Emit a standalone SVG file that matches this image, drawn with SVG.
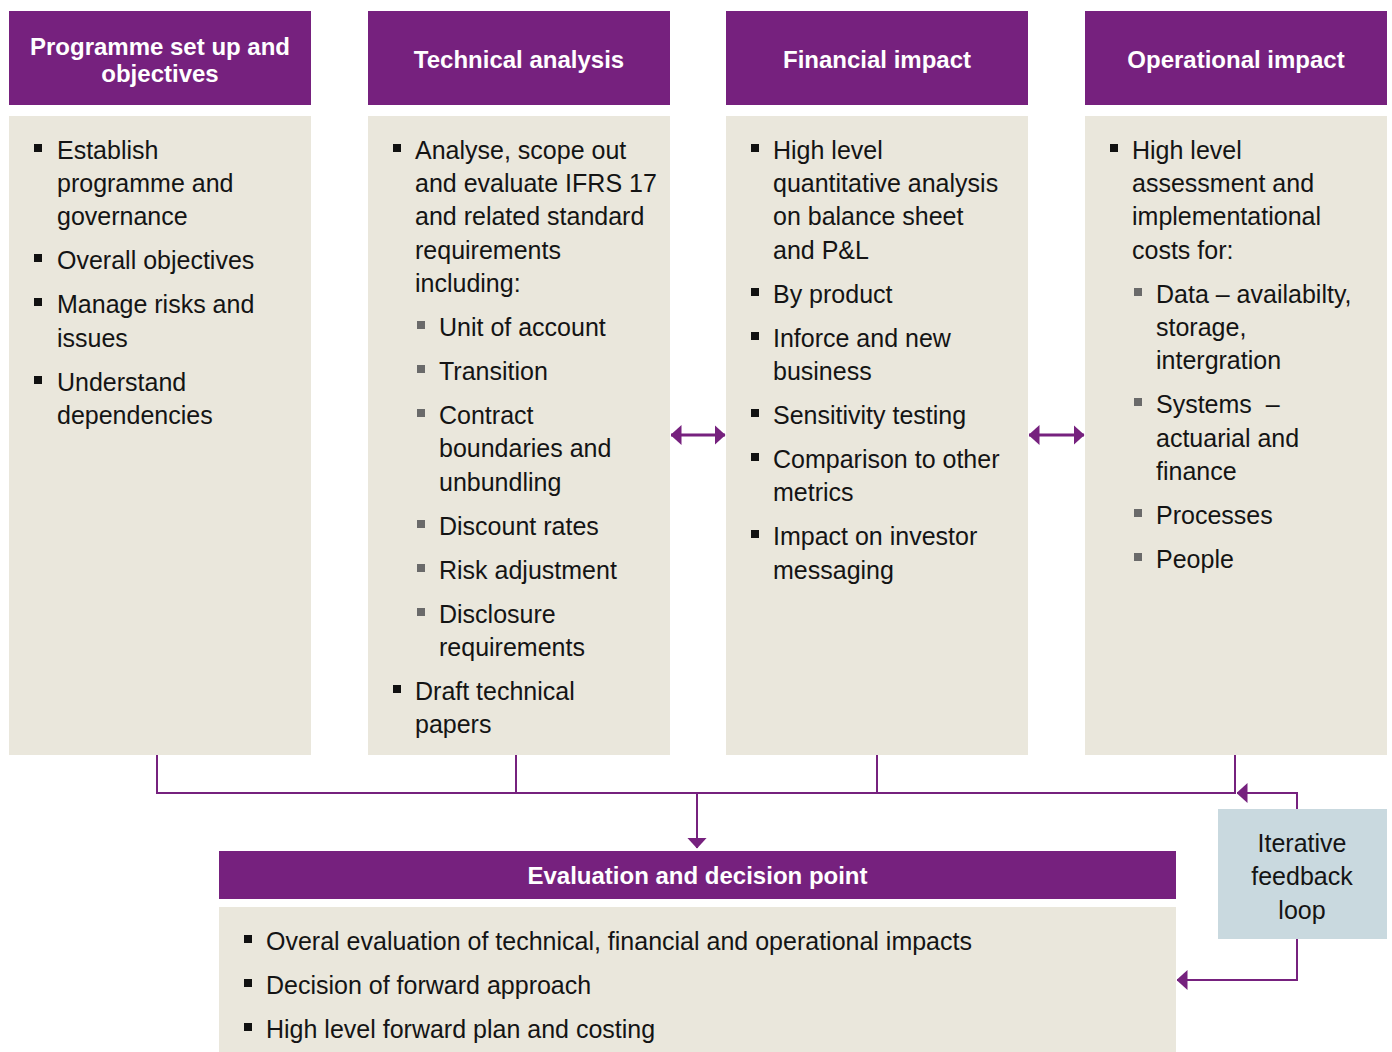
<svg xmlns="http://www.w3.org/2000/svg" width="1392" height="1052" viewBox="0 0 1392 1052">
  <style>
    .head { fill: #76217e; }
    .body { fill: #eae7dc; }
    .fb { fill: #c9d9df; }
    .ht { font-family: "Liberation Sans", Arial, sans-serif; font-weight: bold; font-size: 24px; fill: #ffffff; text-anchor: middle; }
    .t { font-family: "Liberation Sans", Arial, sans-serif; font-size: 25px; fill: #141414; }
    .fbt { font-family: "Liberation Sans", Arial, sans-serif; font-size: 25px; fill: #141414; text-anchor: middle; }
    .b1 { fill: #111111; }
    .b2 { fill: #6a6a6a; }
    .conn { fill: none; stroke: #76217e; stroke-width: 2; }
    .dbl { fill: none; stroke: #76217e; stroke-width: 3; }
  </style>
  <defs>
    <marker id="tri" viewBox="0 0 11 20" refX="10.5" refY="10" markerWidth="11" markerHeight="20" markerUnits="userSpaceOnUse" orient="auto-start-reverse">
      <path d="M0,0 L11,10 L0,20 z" fill="#76217e"/>
    </marker>
    <rect id="sq" width="8" height="8"/>
  </defs>

  <!-- Column 1 -->
  <g id="programme">
    <rect class="head" x="9" y="11" width="302" height="94"/>
    <text class="ht" x="160" y="55">Programme set up and</text>
    <text class="ht" x="160" y="82">objectives</text>
    <rect class="body" x="9" y="116" width="302" height="639"/>
    <g class="b1">
      <use href="#sq" x="34" y="144"/>
      <use href="#sq" x="34" y="254"/>
      <use href="#sq" x="34" y="298"/>
      <use href="#sq" x="34" y="376"/>
    </g>
    <g class="t">
      <text x="57" y="159">Establish</text>
      <text x="57" y="192">programme and</text>
      <text x="57" y="225">governance</text>
      <text x="57" y="269">Overall objectives</text>
      <text x="57" y="313">Manage risks and</text>
      <text x="57" y="347">issues</text>
      <text x="57" y="391">Understand</text>
      <text x="57" y="424">dependencies</text>
    </g>
  </g>

  <!-- Column 2 -->
  <g id="technical">
    <rect class="head" x="368" y="11" width="302" height="94"/>
    <text class="ht" x="519" y="68">Technical analysis</text>
    <rect class="body" x="368" y="116" width="302" height="639"/>
    <g class="b1">
      <use href="#sq" x="393" y="144"/>
      <use href="#sq" x="393" y="685"/>
    </g>
    <g class="b2">
      <use href="#sq" x="417" y="321"/>
      <use href="#sq" x="417" y="365"/>
      <use href="#sq" x="417" y="409"/>
      <use href="#sq" x="417" y="520"/>
      <use href="#sq" x="417" y="564"/>
      <use href="#sq" x="417" y="608"/>
    </g>
    <g class="t">
      <text x="415" y="159">Analyse, scope out</text>
      <text x="415" y="192">and evaluate IFRS 17</text>
      <text x="415" y="225">and related standard</text>
      <text x="415" y="259">requirements</text>
      <text x="415" y="292">including:</text>
      <text x="439" y="336">Unit of account</text>
      <text x="439" y="380">Transition</text>
      <text x="439" y="424">Contract</text>
      <text x="439" y="457">boundaries and</text>
      <text x="439" y="491">unbundling</text>
      <text x="439" y="535">Discount rates</text>
      <text x="439" y="579">Risk adjustment</text>
      <text x="439" y="623">Disclosure</text>
      <text x="439" y="656">requirements</text>
      <text x="415" y="700">Draft technical</text>
      <text x="415" y="733">papers</text>
    </g>
  </g>

  <!-- Column 3 -->
  <g id="financial">
    <rect class="head" x="726" y="11" width="302" height="94"/>
    <text class="ht" x="877" y="68">Financial impact</text>
    <rect class="body" x="726" y="116" width="302" height="639"/>
    <g class="b1">
      <use href="#sq" x="751" y="144"/>
      <use href="#sq" x="751" y="288"/>
      <use href="#sq" x="751" y="332"/>
      <use href="#sq" x="751" y="409"/>
      <use href="#sq" x="751" y="453"/>
      <use href="#sq" x="751" y="530"/>
    </g>
    <g class="t">
      <text x="773" y="159">High level</text>
      <text x="773" y="192">quantitative analysis</text>
      <text x="773" y="225">on balance sheet</text>
      <text x="773" y="259">and P&amp;L</text>
      <text x="773" y="303">By product</text>
      <text x="773" y="347">Inforce and new</text>
      <text x="773" y="380">business</text>
      <text x="773" y="424">Sensitivity testing</text>
      <text x="773" y="468">Comparison to other</text>
      <text x="773" y="501">metrics</text>
      <text x="773" y="545">Impact on investor</text>
      <text x="773" y="579">messaging</text>
    </g>
  </g>

  <!-- Column 4 -->
  <g id="operational">
    <rect class="head" x="1085" y="11" width="302" height="94"/>
    <text class="ht" x="1236" y="68">Operational impact</text>
    <rect class="body" x="1085" y="116" width="302" height="639"/>
    <g class="b1">
      <use href="#sq" x="1110" y="144"/>
    </g>
    <g class="b2">
      <use href="#sq" x="1134" y="288"/>
      <use href="#sq" x="1134" y="398"/>
      <use href="#sq" x="1134" y="509"/>
      <use href="#sq" x="1134" y="553"/>
    </g>
    <g class="t">
      <text x="1132" y="159">High level</text>
      <text x="1132" y="192">assessment and</text>
      <text x="1132" y="225">implementational</text>
      <text x="1132" y="259">costs for:</text>
      <text x="1156" y="303">Data – availabilty,</text>
      <text x="1156" y="336">storage,</text>
      <text x="1156" y="369">intergration</text>
      <text x="1156" y="413">Systems &#160;–</text>
      <text x="1156" y="447">actuarial and</text>
      <text x="1156" y="480">finance</text>
      <text x="1156" y="524">Processes</text>
      <text x="1156" y="568">People</text>
    </g>
  </g>

  <!-- Evaluation block -->
  <g id="evaluation">
    <rect class="head" x="219" y="851" width="957" height="48"/>
    <text class="ht" x="697.5" y="884">Evaluation and decision point</text>
    <rect class="body" x="219" y="907" width="957" height="145"/>
    <g class="b1">
      <use href="#sq" x="244" y="935"/>
      <use href="#sq" x="244" y="979"/>
      <use href="#sq" x="244" y="1023"/>
    </g>
    <g class="t">
      <text x="266" y="950">Overal evaluation of technical, financial and operational impacts</text>
      <text x="266" y="994">Decision of forward approach</text>
      <text x="266" y="1038">High level forward plan and costing</text>
    </g>
  </g>

  <!-- Feedback box -->
  <g id="feedback">
    <rect class="fb" x="1218" y="809" width="169" height="130"/>
    <text class="fbt" x="1302" y="852">Iterative</text>
    <text class="fbt" x="1302" y="885">feedback</text>
    <text class="fbt" x="1302" y="919">loop</text>
  </g>

  <!-- Connectors -->
  <g id="connectors">
    <path class="dbl" d="M671,435 H725" marker-start="url(#tri)" marker-end="url(#tri)"/>
    <path class="dbl" d="M1029,435 H1084" marker-start="url(#tri)" marker-end="url(#tri)"/>
    <path class="conn" d="M157,755 V793 H1235 V755"/>
    <path class="conn" d="M516,755 V793"/>
    <path class="conn" d="M877,755 V793"/>
    <path class="conn" d="M697,793 V848" marker-end="url(#tri)"/>
    <path class="conn" d="M1297,809 V793 H1237" marker-end="url(#tri)"/>
    <path class="conn" d="M1297,939 V980 H1177" marker-end="url(#tri)"/>
  </g>
</svg>
